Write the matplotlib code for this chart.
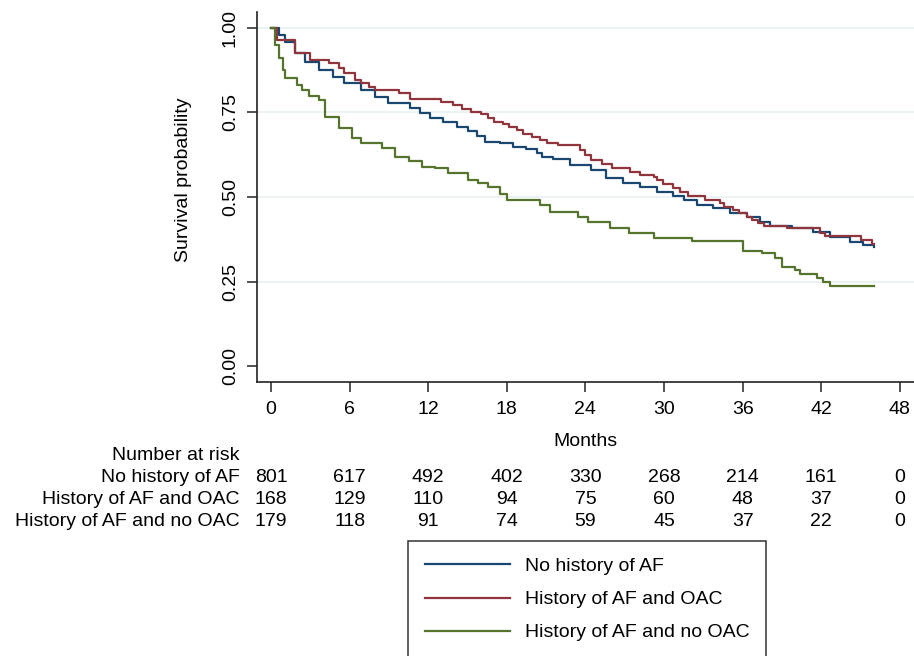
import matplotlib
matplotlib.use('Agg')
import matplotlib.pyplot as plt
from matplotlib.transforms import blended_transform_factory

plt.rcParams['font.family'] = ['Liberation Sans', 'DejaVu Sans']

# ---------------- data ----------------
labels = ["No history of AF", "History of AF and OAC", "History of AF and no OAC"]
colors = ["#1a476f", "#90353b", "#55752f"]

t_noaf = [0, 0.6, 1.07, 1.8, 2.6, 3.7, 4.7, 5.6, 6.9, 7.9, 8.9, 10.6, 11.4, 12.1, 13.1, 14.2,
          15.0, 15.7, 16.3, 17.5, 18.5, 19.5, 20.3, 20.7, 21.5, 22.8, 24.4, 25.6, 26.9, 28.2,
          29.5, 30.7, 31.5, 32.5, 33.7, 35.0, 36.3, 37.3, 38.1, 39.8, 41.4, 42.7, 44.2, 45.2, 46.0]
s_noaf = [1.0, 0.98, 0.959, 0.926, 0.9, 0.876, 0.855, 0.837, 0.817, 0.796, 0.778, 0.763, 0.749,
          0.734, 0.722, 0.707, 0.695, 0.68, 0.663, 0.66, 0.648, 0.642, 0.63, 0.618, 0.612, 0.595,
          0.58, 0.556, 0.541, 0.53, 0.515, 0.503, 0.491, 0.476, 0.467, 0.452, 0.441, 0.426, 0.414,
          0.408, 0.396, 0.382, 0.367, 0.358, 0.352]

t_oac = [0, 0.46, 1.8, 3.0, 4.4, 5.2, 5.6, 6.4, 6.9, 7.5, 7.9, 9.8, 10.6, 13.0, 13.9, 14.6,
         15.3, 16.0, 16.6, 17.0, 17.7, 18.2, 18.8, 19.2, 19.9, 20.5, 21.1, 21.9, 23.6, 24.0,
         24.4, 25.3, 26.0, 27.4, 28.2, 29.2, 29.5, 29.9, 30.7, 31.2, 31.8, 33.1, 34.3, 34.6,
         35.3, 35.7, 36.3, 36.7, 37.2, 37.6, 39.4, 41.9, 42.3, 45.0, 45.9, 46.0]
s_oac = [1.0, 0.965, 0.926, 0.905, 0.896, 0.88, 0.867, 0.846, 0.837, 0.825, 0.817, 0.808, 0.79,
         0.78, 0.772, 0.76, 0.752, 0.745, 0.734, 0.722, 0.716, 0.707, 0.698, 0.686, 0.678, 0.669,
         0.66, 0.654, 0.64, 0.624, 0.609, 0.598, 0.586, 0.574, 0.565, 0.559, 0.55, 0.538, 0.527,
         0.515, 0.503, 0.491, 0.482, 0.47, 0.461, 0.452, 0.441, 0.432, 0.423, 0.414, 0.408,
         0.394, 0.385, 0.373, 0.361, 0.361]

t_nooac = [0, 0.3, 0.6, 0.9, 1.07, 2.0, 2.4, 2.9, 3.7, 4.1, 5.2, 6.2, 6.9, 8.5, 9.5, 10.5,
           11.5, 12.5, 13.5, 15.0, 15.8, 16.6, 17.5, 18.0, 20.5, 21.3, 23.4, 24.2, 25.9, 27.3,
           29.2, 32.1, 36.0, 37.5, 38.5, 39.0, 40.0, 40.4, 41.7, 42.1, 42.7, 46.0]
s_nooac = [1.0, 0.95, 0.91, 0.875, 0.852, 0.83, 0.815, 0.80, 0.787, 0.737, 0.704, 0.675, 0.66,
           0.645, 0.618, 0.605, 0.59, 0.585, 0.57, 0.55, 0.54, 0.53, 0.51, 0.49, 0.476, 0.456,
           0.44, 0.426, 0.408, 0.393, 0.378, 0.37, 0.34, 0.334, 0.32, 0.293, 0.284, 0.272, 0.26,
           0.25, 0.237, 0.237]

risk_times = [0, 6, 12, 18, 24, 30, 36, 42, 48]
risk_noaf = [801, 617, 492, 402, 330, 268, 214, 161, 0]
risk_oac = [168, 129, 110, 94, 75, 60, 48, 37, 0]
risk_nooac = [179, 118, 91, 74, 59, 45, 37, 22, 0]

x_ticks = [0, 6, 12, 18, 24, 30, 36, 42, 48]
y_ticks = [0.0, 0.25, 0.5, 0.75, 1.0]
y_ticklabels = ["0.00", "0.25", "0.50", "0.75", "1.00"]

# ---------------- figure ----------------
W, H = 914, 656
fig = plt.figure(figsize=(W / 100, H / 100), dpi=100)
fig.patch.set_facecolor("white")

def fx(px):
    return px / W

def fy(py):
    return 1 - py / H

ax_left, ax_right, ax_top, ax_bottom = 257, 914, 12, 382
ax = fig.add_axes([fx(ax_left), fy(ax_bottom), (ax_right - ax_left) / W, (ax_bottom - ax_top) / H])

FS = 14
for ts, ss, lab, col in zip([t_noaf, t_oac, t_nooac], [s_noaf, s_oac, s_nooac], labels, colors):
    ax.step(ts, ss, where="post", color=col, lw=1.6, label=lab, zorder=3)

ax.set_xlim(-1.07, 49.08)
ax.set_ylim(-0.047, 1.047)
for v in [0.25, 0.5, 0.75, 1.0]:
    ax.axhline(v, color="#eaf2f3", lw=1.3, zorder=1)

ax.set_xticks(x_ticks)
ax.set_xticklabels([str(v) for v in x_ticks], fontsize=FS)
ax.set_yticks(y_ticks)
ax.set_yticklabels(y_ticklabels, fontsize=FS, rotation=90, va="center")
ax.tick_params(axis="both", length=7, width=1.1, color="#222222")
ax.tick_params(axis="x", pad=7)
ax.tick_params(axis="y", pad=6)
for side in ["top", "right"]:
    ax.spines[side].set_visible(False)
for side in ["left", "bottom"]:
    ax.spines[side].set_linewidth(1.2)
    ax.spines[side].set_color("#222222")

fig.text(fx(183), fy(180), "Survival probability", rotation=90, ha="center", va="center", fontsize=FS)
fig.text(fx(585), fy(441), "Months", ha="center", va="center", fontsize=FS)

# ---------------- number at risk table ----------------
trans = blended_transform_factory(ax.transData, fig.transFigure)
fig.text(fx(240), fy(455), "Number at risk", ha="right", va="center", fontsize=FS)
rows_y = [478, 500, 522]
for lab, vals, ry in zip(labels, [risk_noaf, risk_oac, risk_nooac], rows_y):
    fig.text(fx(240), fy(ry), lab, ha="right", va="center", fontsize=FS)
    for t, v in zip(risk_times, vals):
        fig.text(t, fy(ry), str(v), ha="center", va="center", fontsize=FS, transform=trans)

# ---------------- legend ----------------
handles, leg_labels = ax.get_legend_handles_labels()
leg = fig.legend(handles, leg_labels, loc="upper left", bbox_to_anchor=(fx(408), fy(541)),
                 fontsize=FS, frameon=True, fancybox=False, edgecolor="black",
                 handlelength=4.4, handletextpad=0.75, labelspacing=0.8, borderpad=0.85,
                 borderaxespad=0.0)
leg.get_frame().set_linewidth(1.1)

fig.savefig("out.png", dpi=100, facecolor="white")
